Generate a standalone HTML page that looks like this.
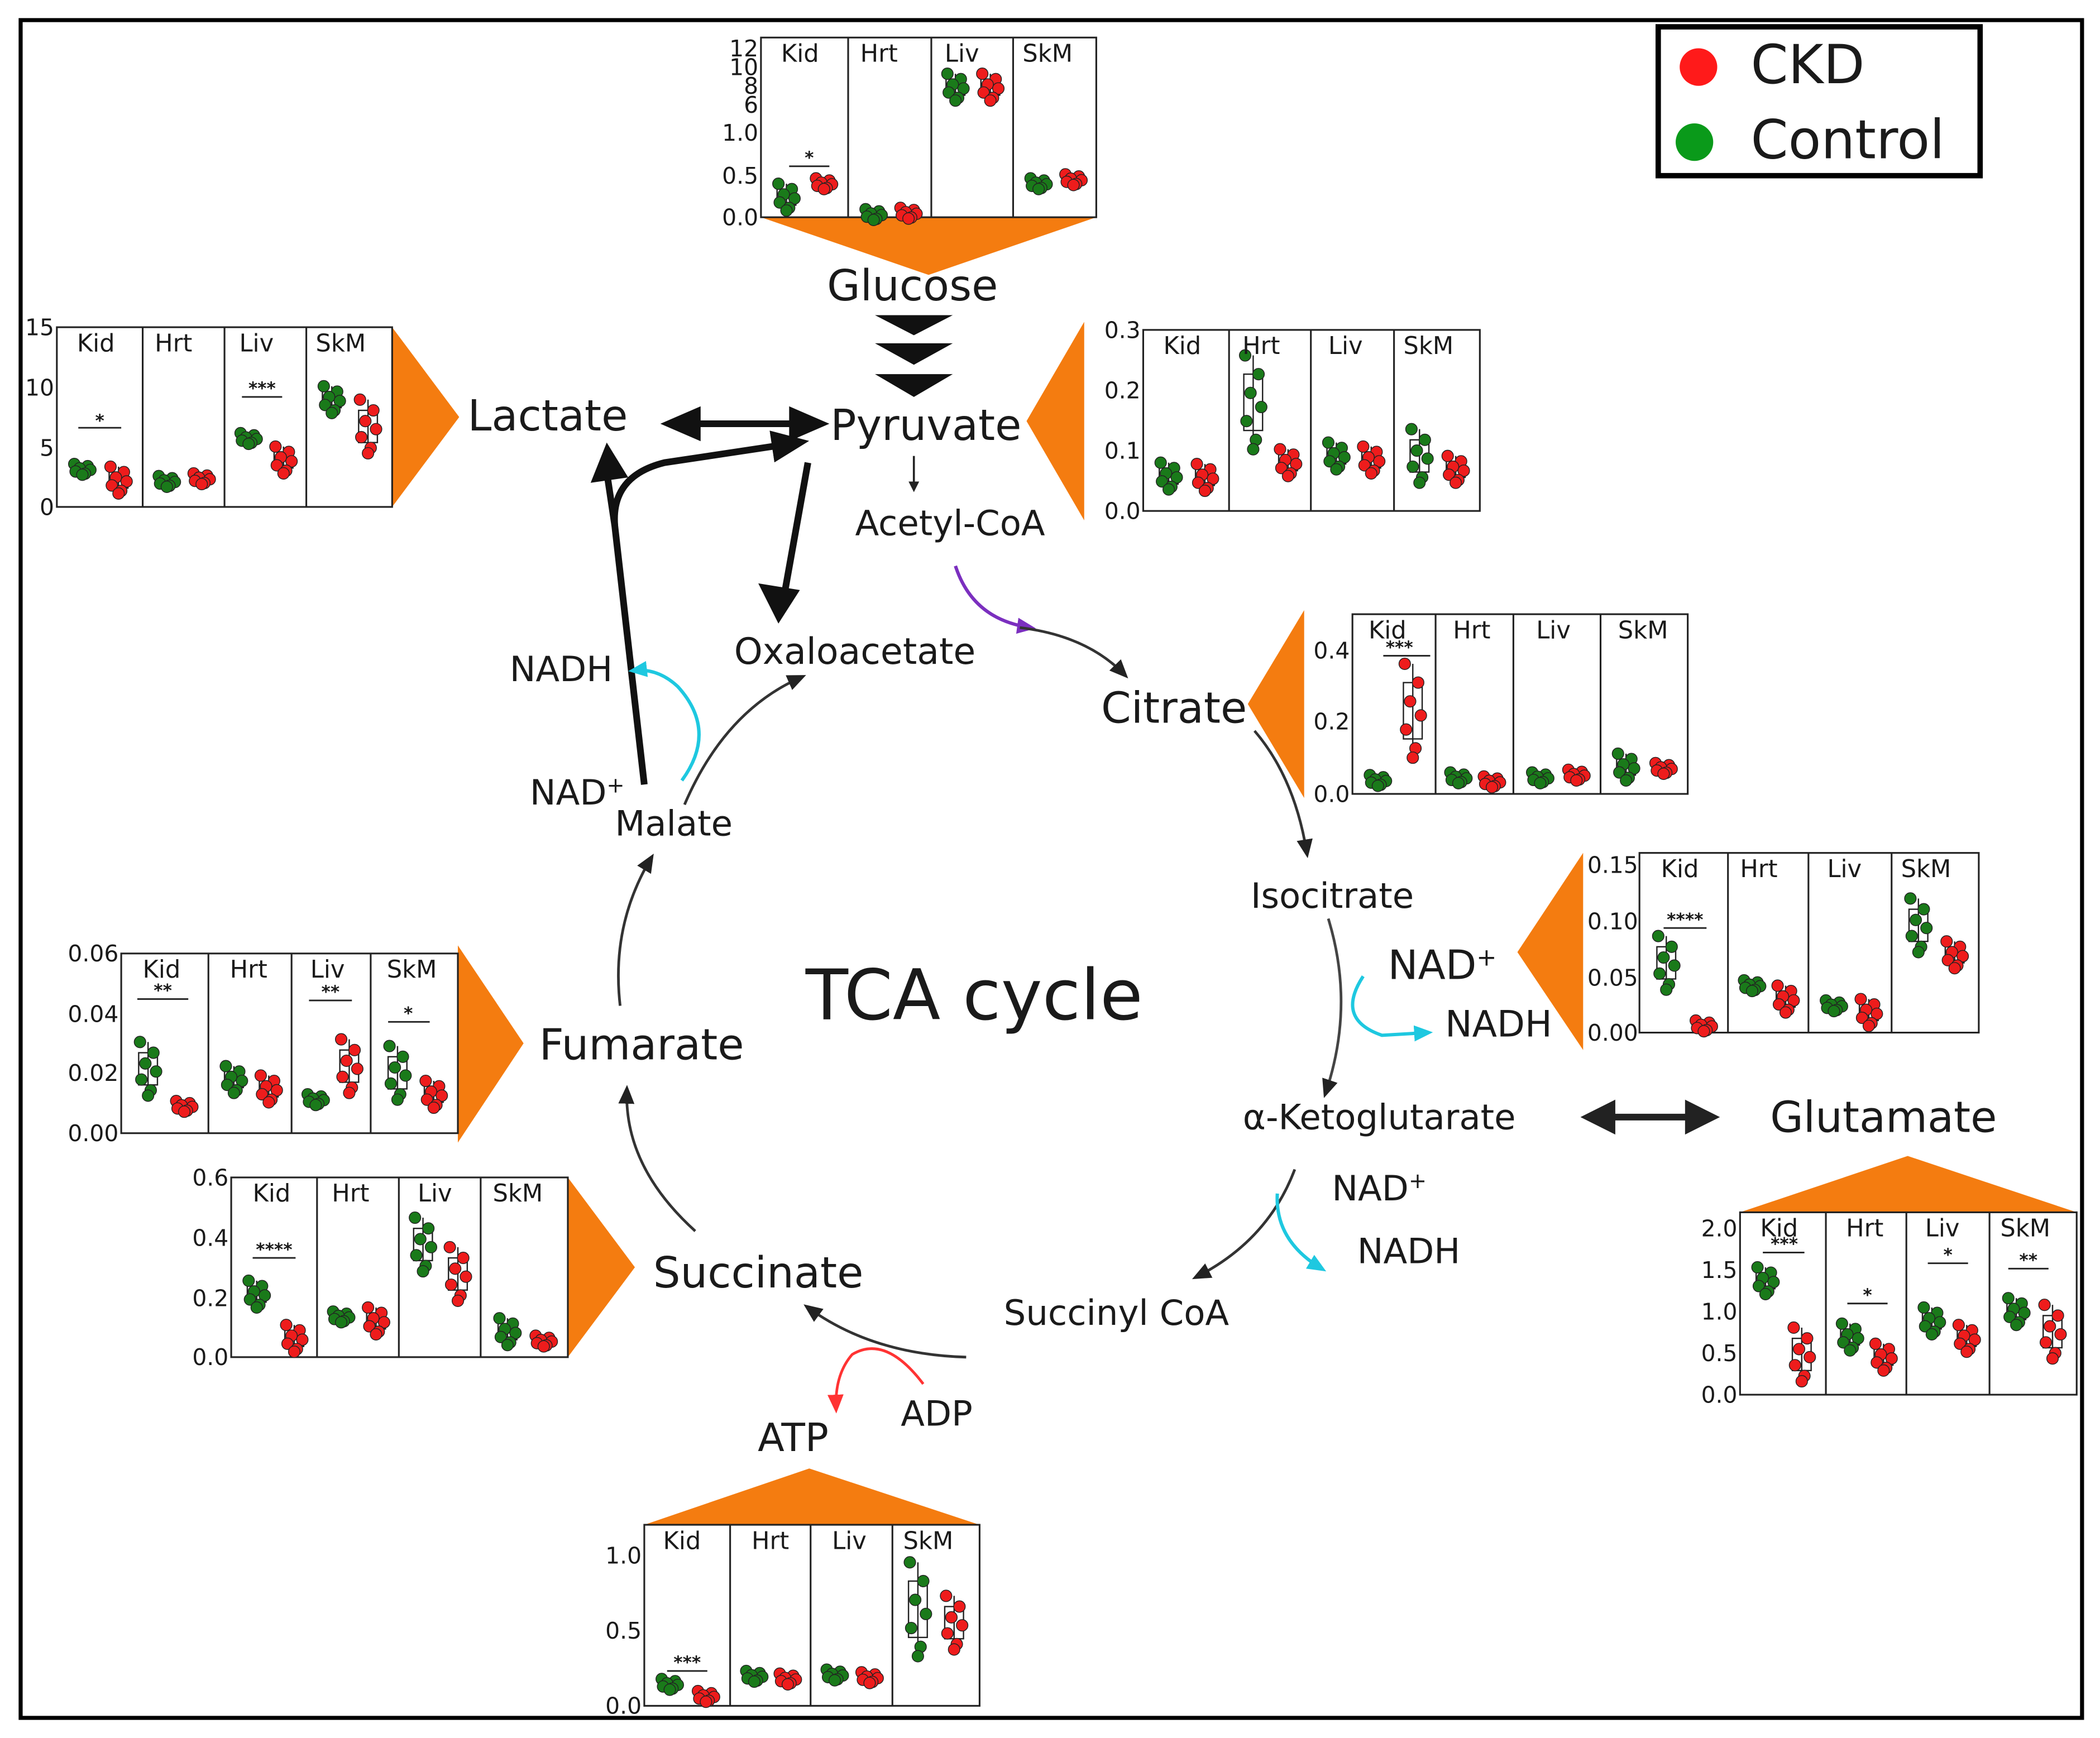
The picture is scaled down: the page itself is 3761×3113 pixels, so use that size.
<!DOCTYPE html>
<html><head><meta charset="utf-8"><style>
html,body{margin:0;padding:0;background:#fff;}
svg{display:block;}
text{font-family:"DejaVu Sans","Liberation Sans",sans-serif;fill:#1a1a1a;}
.ax{font-size:17px;}
.sub{font-size:18px;}
.st{font-size:13px;font-weight:bold;}
</style></head><body>
<svg width="3761" height="3113" viewBox="0 0 1565 1296" xmlns="http://www.w3.org/2000/svg" xmlns:xlink="http://www.w3.org/1999/xlink">
<defs>
<marker id="ab" markerWidth="8" markerHeight="8" refX="6" refY="4" orient="auto" markerUnits="userSpaceOnUse"><path d="M0,0 L8,4 L0,8 z" fill="#222"/></marker>
<marker id="abig" markerWidth="30" markerHeight="30" refX="20" refY="15" orient="auto" markerUnits="userSpaceOnUse"><path d="M0,3 L28,15 L0,27 z" fill="#111"/></marker>
<marker id="ap" markerWidth="14" markerHeight="14" refX="10" refY="7" orient="auto" markerUnits="userSpaceOnUse"><path d="M0,1 L14,7 L0,13 z" fill="#7b2fbf"/></marker>
<marker id="ac" markerWidth="14" markerHeight="14" refX="10" refY="7" orient="auto" markerUnits="userSpaceOnUse"><path d="M0,1 L14,7 L0,13 z" fill="#1ec8e0"/></marker>
<marker id="ar" markerWidth="14" markerHeight="14" refX="10" refY="7" orient="auto" markerUnits="userSpaceOnUse"><path d="M0,1 L14,7 L0,13 z" fill="#ff3333"/></marker>
<marker id="am" markerWidth="14" markerHeight="14" refX="10" refY="7" orient="auto" markerUnits="userSpaceOnUse"><path d="M0,1 L14,7 L0,13 z" fill="#222"/></marker>
<g id="cS"><rect x="-7" y="-2.4" width="14" height="5.8" fill="#fff" stroke="#222" stroke-width="1"/><line x1="0" y1="-4" x2="0" y2="4" stroke="#222"/>
<g stroke="#222" stroke-width="0.6"><circle cx="-6" cy="-4" r="4.3"/><circle cx="4" cy="-2.4" r="4.3"/><circle cx="-2" cy="-0.8" r="4.3"/><circle cx="6" cy="0.4" r="4.3"/><circle cx="-5" cy="1.6" r="4.3"/><circle cx="2" cy="3.2" r="4.3"/><circle cx="0" cy="4" r="4.3"/></g></g>
<g id="cM"><rect x="-7" y="-6" width="14" height="12" fill="#fff" stroke="#222" stroke-width="1"/><line x1="0" y1="-10" x2="0" y2="10" stroke="#222"/>
<g stroke="#222" stroke-width="0.6"><circle cx="-6" cy="-10" r="4.3"/><circle cx="4" cy="-6" r="4.3"/><circle cx="-2" cy="-2" r="4.3"/><circle cx="6" cy="1" r="4.3"/><circle cx="-5" cy="4" r="4.3"/><circle cx="2" cy="8" r="4.3"/><circle cx="0" cy="10" r="4.3"/></g></g>
<g id="cL"><rect x="-7" y="-12" width="14" height="24" fill="#fff" stroke="#222" stroke-width="1"/><line x1="0" y1="-20" x2="0" y2="20" stroke="#222"/>
<g stroke="#222" stroke-width="0.6"><circle cx="-6" cy="-20" r="4.3"/><circle cx="4" cy="-12" r="4.3"/><circle cx="-2" cy="-4" r="4.3"/><circle cx="6" cy="2" r="4.3"/><circle cx="-5" cy="8" r="4.3"/><circle cx="2" cy="16" r="4.3"/><circle cx="0" cy="20" r="4.3"/></g></g>
<g id="cX"><rect x="-7" y="-21" width="14" height="42" fill="#fff" stroke="#222" stroke-width="1"/><line x1="0" y1="-35" x2="0" y2="35" stroke="#222"/>
<g stroke="#222" stroke-width="0.6"><circle cx="-6" cy="-35" r="4.3"/><circle cx="4" cy="-21" r="4.3"/><circle cx="-2" cy="-7" r="4.3"/><circle cx="6" cy="3.5" r="4.3"/><circle cx="-5" cy="14" r="4.3"/><circle cx="2" cy="28" r="4.3"/><circle cx="0" cy="35" r="4.3"/></g></g>
</defs>
<rect x="15" y="15" width="1537" height="1266" fill="none" stroke="#000" stroke-width="3"/>
<!-- legend -->
<rect x="1236" y="20" width="240" height="111" fill="none" stroke="#000" stroke-width="4"/>
<circle cx="1266" cy="50" r="14" fill="#ff1a1a"/><text x="1305" y="62" style="font-size:40px">CKD</text>
<circle cx="1263" cy="106" r="14" fill="#0a9a1a"/><text x="1305" y="118" style="font-size:40px">Control</text>

<!-- orange triangles -->
<g fill="#f47c10">
<polygon points="567,162 817,162 692,205"/>
<polygon points="292,244 292,378 342,311"/>
<polygon points="808,240 808,388 765,314"/>
<polygon points="972,455 972,595 930,525"/>
<polygon points="1180,636 1180,783 1131,710"/>
<polygon points="1297,904 1548,904 1422,862"/>
<polygon points="341,705 341,852 390,778"/>
<polygon points="423,878 423,1012 473,945"/>
<polygon points="480,1137 730,1137 603,1095"/>
</g>

<g fill="none" stroke="#222" stroke-width="1.3">
<rect x="567" y="28" width="250" height="134"/><path d="M632,28V162M694,28V162M755,28V162"/>
<rect x="42" y="244" width="250" height="134"/><path d="M106,244V378M167,244V378M228,244V378"/>
<rect x="852" y="246" width="251" height="135"/><path d="M916,246V381M977,246V381M1039,246V381"/>
<rect x="1008" y="458" width="250" height="134"/><path d="M1070,458V592M1128,458V592M1193,458V592"/>
<rect x="1222" y="636" width="253" height="134"/><path d="M1288,636V770M1348,636V770M1410,636V770"/>
<rect x="1297" y="904" width="251" height="136"/><path d="M1361,904V1040M1421,904V1040M1483,904V1040"/>
<rect x="90" y="711" width="251" height="134"/><path d="M155,711V845M217,711V845M276,711V845"/>
<rect x="172" y="878" width="251" height="134"/><path d="M236,878V1012M297,878V1012M358,878V1012"/>
<rect x="480" y="1137" width="250" height="135"/><path d="M544,1137V1272M604,1137V1272M665,1137V1272"/>
</g>

<!-- dots: green -->
<g fill="#1a7a1a">
<use href="#cM" x="586" y="147"/><use href="#cS" x="651" y="160"/><use href="#cM" x="712" y="65"/><use href="#cS" x="774" y="137"/>
<use href="#cS" x="61" y="350"/><use href="#cS" x="124" y="359"/><use href="#cS" x="185" y="327"/><use href="#cM" x="247" y="298"/>
<use href="#cM" x="871" y="355"/><use href="#cX" x="934" y="300"/><use href="#cM" x="996" y="340"/><use href="#cL" x="1058" y="340"/>
<use href="#cS" x="1027" y="582"/><use href="#cS" x="1087" y="580"/><use href="#cS" x="1148" y="580"/><use href="#cM" x="1212" y="572"/>
<use href="#cL" x="1242" y="718"/><use href="#cS" x="1306" y="735"/><use href="#cS" x="1367" y="750"/><use href="#cL" x="1430" y="690"/>
<use href="#cM" x="1316" y="955"/><use href="#cM" x="1379" y="997"/><use href="#cM" x="1440" y="985"/><use href="#cM" x="1503" y="978"/>
<use href="#cL" x="110" y="797"/><use href="#cM" x="174" y="805"/><use href="#cS" x="235" y="820"/><use href="#cL" x="296" y="800"/>
<use href="#cM" x="191" y="965"/><use href="#cS" x="254" y="982"/><use href="#cL" x="315" y="928"/><use href="#cM" x="378" y="993"/>
<use href="#cS" x="499" y="1256"/><use href="#cS" x="562" y="1250"/><use href="#cS" x="622" y="1249"/><use href="#cX" x="684" y="1200"/>
</g>
<!-- dots: red -->
<g fill="#ee1c1c">
<use href="#cS" x="614" y="137"/><use href="#cS" x="677" y="159"/><use href="#cM" x="738" y="65"/><use href="#cS" x="800" y="134"/>
<use href="#cM" x="88" y="358"/><use href="#cS" x="150" y="357"/><use href="#cM" x="211" y="343"/><use href="#cL" x="274" y="318"/>
<use href="#cM" x="898" y="356"/><use href="#cM" x="960" y="345"/><use href="#cM" x="1022" y="343"/><use href="#cM" x="1085" y="350"/>
<use href="#cX" x="1053" y="530"/><use href="#cS" x="1112" y="583"/><use href="#cS" x="1175" y="578"/><use href="#cS" x="1240" y="573"/>
<use href="#cS" x="1270" y="765"/><use href="#cM" x="1331" y="745"/><use href="#cM" x="1393" y="755"/><use href="#cM" x="1457" y="712"/>
<use href="#cL" x="1343" y="1010"/><use href="#cM" x="1404" y="1012"/><use href="#cM" x="1466" y="998"/><use href="#cL" x="1530" y="993"/>
<use href="#cS" x="137" y="825"/><use href="#cM" x="200" y="812"/><use href="#cL" x="260" y="795"/><use href="#cM" x="323" y="816"/>
<use href="#cM" x="219" y="998"/><use href="#cM" x="280" y="985"/><use href="#cL" x="341" y="950"/><use href="#cS" x="405" y="1000"/>
<use href="#cS" x="526" y="1265"/><use href="#cS" x="587" y="1252"/><use href="#cS" x="648" y="1251"/><use href="#cL" x="711" y="1210"/>
</g>

<!-- subpanel labels -->
<g class="sub">
<text x="582" y="46">Kid</text><text x="641" y="46">Hrt</text><text x="704" y="46">Liv</text><text x="762" y="46">SkM</text>
<text x="57" y="262">Kid</text><text x="115" y="262">Hrt</text><text x="178" y="262">Liv</text><text x="235" y="262">SkM</text>
<text x="867" y="264">Kid</text><text x="926" y="264">Hrt</text><text x="990" y="264">Liv</text><text x="1046" y="264">SkM</text>
<text x="1020" y="476">Kid</text><text x="1083" y="476">Hrt</text><text x="1145" y="476">Liv</text><text x="1206" y="476">SkM</text>
<text x="1238" y="654">Kid</text><text x="1297" y="654">Hrt</text><text x="1362" y="654">Liv</text><text x="1417" y="654">SkM</text>
<text x="1312" y="922">Kid</text><text x="1376" y="922">Hrt</text><text x="1435" y="922">Liv</text><text x="1491" y="922">SkM</text>
<text x="106" y="729">Kid</text><text x="171" y="729">Hrt</text><text x="231" y="729">Liv</text><text x="288" y="729">SkM</text>
<text x="188" y="896">Kid</text><text x="247" y="896">Hrt</text><text x="311" y="896">Liv</text><text x="367" y="896">SkM</text>
<text x="494" y="1155">Kid</text><text x="560" y="1155">Hrt</text><text x="620" y="1155">Liv</text><text x="673" y="1155">SkM</text>
</g>
<!-- axis labels -->
<g class="ax" text-anchor="end">
<text x="565" y="42">12</text><text x="565" y="56">10</text><text x="565" y="70">8</text><text x="565" y="84">6</text><text x="565" y="105">1.0</text><text x="565" y="137">0.5</text><text x="565" y="168">0.0</text>
<text x="40" y="250">15</text><text x="40" y="295">10</text><text x="40" y="340">5</text><text x="40" y="384">0</text>
<text x="850" y="252">0.3</text><text x="850" y="297">0.2</text><text x="850" y="342">0.1</text><text x="850" y="387">0.0</text>
<text x="1006" y="491">0.4</text><text x="1006" y="544">0.2</text><text x="1006" y="598">0.0</text>
<text x="1221" y="651">0.15</text><text x="1221" y="693">0.10</text><text x="1221" y="735">0.05</text><text x="1221" y="776">0.00</text>
<text x="1295" y="922">2.0</text><text x="1295" y="953">1.5</text><text x="1295" y="984">1.0</text><text x="1295" y="1015">0.5</text><text x="1295" y="1046">0.0</text>
<text x="88" y="717">0.06</text><text x="88" y="762">0.04</text><text x="88" y="806">0.02</text><text x="88" y="851">0.00</text>
<text x="170" y="884">0.6</text><text x="170" y="929">0.4</text><text x="170" y="974">0.2</text><text x="170" y="1018">0.0</text>
<text x="478" y="1166">1.0</text><text x="478" y="1222">0.5</text><text x="478" y="1278">0.0</text>
</g>
<!-- significance -->
<g stroke="#222" stroke-width="1.2">
<path d="M588,124H618M58,319H90M180,296H210M1031,489H1066M1240,692H1272M1314,934H1345M1377,972H1407M1437,942H1467M1497,946H1527M102,745H140M230,746H262M289,762H320M188,938H220M497,1246H527"/>
</g>
<g class="st" text-anchor="middle">
<text x="603" y="122">*</text><text x="74" y="318">*</text><text x="195" y="294">***</text><text x="1043" y="487">***</text><text x="1256" y="690">****</text>
<text x="1330" y="932">***</text><text x="1392" y="970">*</text><text x="1452" y="940">*</text><text x="1512" y="944">**</text>
<text x="121" y="743">**</text><text x="246" y="744">**</text><text x="304" y="760">*</text><text x="204" y="936">****</text><text x="512" y="1244">***</text>
</g>

<!-- pathway connectors -->
<g fill="#111">
<polygon points="652,235 710,235 681,250"/>
<polygon points="652,256 710,256 681,272"/>
<polygon points="652,279 710,279 681,296"/>
</g>
<path d="M681,340V365" stroke="#222" stroke-width="1.5" marker-end="url(#ab)"/>
<path d="M515,316H595" stroke="#111" stroke-width="5"/>
<polygon points="492,316 522,303 522,329" fill="#111"/>
<polygon points="618,316 588,303 588,329" fill="#111"/>
<path d="M480,585 L458,392 Q455,355 495,345 L595,330" stroke="#111" stroke-width="5" fill="none" marker-end="url(#abig)"/>
<path d="M458,392 L452,352" stroke="#111" stroke-width="5"/>
<polygon points="452,330 440,360 468,356" fill="#111"/>
<path d="M602,345 L585,440" stroke="#111" stroke-width="5" fill="none"/>
<polygon points="580,465 565,435 596,440" fill="#111"/>
<path d="M712,422 Q725,462 768,468" stroke="#7b2fbf" stroke-width="2.5" fill="none" marker-end="url(#ap)"/>
<path d="M760,468 Q810,474 838,503" stroke="#333" stroke-width="2" fill="none" marker-end="url(#am)"/>
<path d="M935,545 Q965,580 974,636" stroke="#333" stroke-width="2" fill="none" marker-end="url(#am)"/>
<path d="M990,685 Q1010,750 988,815" stroke="#444" stroke-width="2" fill="none" marker-end="url(#am)"/>
<path d="M1016,728 Q995,760 1030,772 L1064,770" stroke="#1ec8e0" stroke-width="2.5" fill="none" marker-end="url(#ac)"/>
<path d="M1198,833H1262" stroke="#222" stroke-width="5"/>
<polygon points="1178,833 1204,820 1204,846" fill="#222"/>
<polygon points="1282,833 1256,820 1256,846" fill="#222"/>
<path d="M965,872 Q945,925 892,952" stroke="#333" stroke-width="2" fill="none" marker-end="url(#am)"/>
<path d="M952,890 Q950,925 985,946" stroke="#1ec8e0" stroke-width="2.5" fill="none" marker-end="url(#ac)"/>
<path d="M720,1012 Q650,1010 602,975" stroke="#333" stroke-width="2" fill="none" marker-end="url(#am)"/>
<path d="M688,1032 Q660,995 635,1010 Q622,1025 623,1050" stroke="#ff3333" stroke-width="2" fill="none" marker-end="url(#ar)"/>
<path d="M518,918 Q465,870 467,813" stroke="#333" stroke-width="2" fill="none" marker-end="url(#am)"/>
<path d="M462,750 Q455,690 485,640" stroke="#333" stroke-width="2" fill="none" marker-end="url(#am)"/>
<path d="M510,600 Q540,530 597,505" stroke="#333" stroke-width="2" fill="none" marker-end="url(#am)"/>
<path d="M508,582 Q535,545 505,512 Q490,498 472,500" stroke="#1ec8e0" stroke-width="2.5" fill="none" marker-end="url(#ac)"/>

<!-- labels -->
<g text-anchor="middle">
<text x="680" y="224" style="font-size:32px">Glucose</text>
<text x="690" y="328" style="font-size:32px">Pyruvate</text>
<text x="408" y="321" style="font-size:32px">Lactate</text>
<text x="708" y="399" style="font-size:26px">Acetyl-CoA</text>
<text x="637" y="495" style="font-size:27px">Oxaloacetate</text>
<text x="875" y="539" style="font-size:32px">Citrate</text>
<text x="993" y="677" style="font-size:26px">Isocitrate</text>
<text x="1075" y="730" style="font-size:30px">NAD<tspan dy="-10" style="font-size:18px">+</tspan></text>
<text x="1117" y="773" style="font-size:27px">NADH</text>
<text x="1028" y="842" style="font-size:26px">α-Ketoglutarate</text>
<text x="1404" y="844" style="font-size:32px">Glutamate</text>
<text x="1028" y="895" style="font-size:26px">NAD<tspan dy="-9" style="font-size:16px">+</tspan></text>
<text x="1050" y="942" style="font-size:26px">NADH</text>
<text x="832" y="988" style="font-size:26px">Succinyl CoA</text>
<text x="565" y="960" style="font-size:32px">Succinate</text>
<text x="591" y="1082" style="font-size:29px">ATP</text>
<text x="698" y="1063" style="font-size:26px">ADP</text>
<text x="478" y="790" style="font-size:32px">Fumarate</text>
<text x="502" y="623" style="font-size:26px">Malate</text>
<text x="430" y="600" style="font-size:26px">NAD<tspan dy="-9" style="font-size:16px">+</tspan></text>
<text x="418" y="508" style="font-size:26px">NADH</text>
<text x="726" y="760" style="font-size:52px">TCA cycle</text>
</g>
</svg>
</body></html>
